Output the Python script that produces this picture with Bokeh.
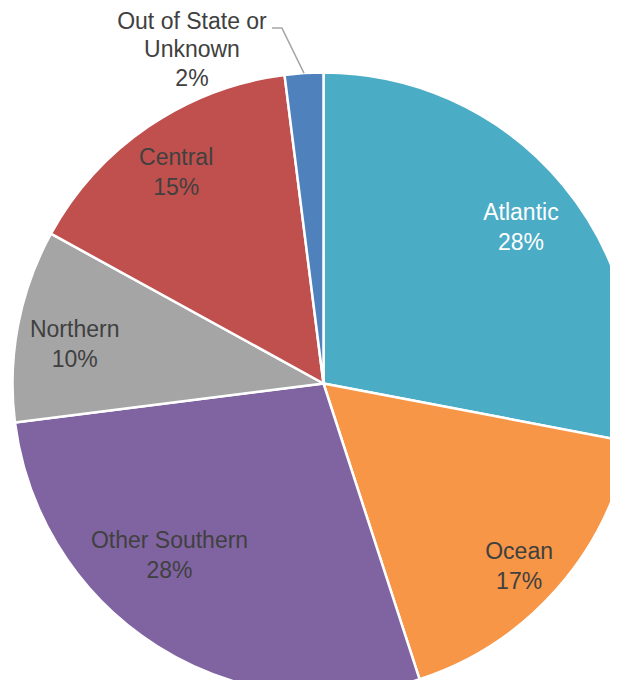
import math
from bokeh.plotting import figure
from bokeh.models import Range1d, ColumnDataSource
from bokeh.core.properties import value
from bokeh.embed import file_html
from bokeh.resources import INLINE

categories = ["Atlantic", "Ocean", "Other Southern", "Northern", "Central", "Out of State or Unknown"]
shares = [28, 17, 28, 10, 15, 2]
colors = ["#4BACC6", "#F79646", "#8064A2", "#A5A5A5", "#C0504D", "#4F81BD"]
text_colors = ["#FFFFFF", "#404040", "#404040", "#404040", "#404040", "#404040"]

# layout constants (pixels)
W, H = 610, 680
CX, CY, R = 323, -383, 311
label_rfrac = [0.81, 0.86, 0.74, 0.81, 0.83]
label_dang = [-1.2, -1.6, -9.6, 1.8, 0.6]
FONT = "Liberation Sans"
FS = "23px"
LH = 30

total = sum(shares)
starts, ends, mids = [], [], []
cum = 0.0
for s in shares:
    a0 = math.pi / 2 - 2 * math.pi * cum / total
    cum += s
    a1 = math.pi / 2 - 2 * math.pi * cum / total
    starts.append(a1)
    ends.append(a0)
    mids.append((a0 + a1) / 2)

p = figure(width=W, height=H, output_backend="svg", toolbar_location=None,
           x_range=Range1d(0, W), y_range=Range1d(-H, 0), min_border=0)
p.axis.visible = False
p.grid.visible = False
p.outline_line_color = None

src = ColumnDataSource(dict(start=starts, end=ends, color=colors))
p.wedge(x=CX, y=CY, radius=R, start_angle="start", end_angle="end",
        fill_color="color", line_color="white", line_width=2.5, source=src)

# inside labels
lx, ly, lt, lc = [], [], [], []
for i in range(5):
    ang = mids[i] + math.radians(label_dang[i])
    x = CX + label_rfrac[i] * R * math.cos(ang)
    y = CY + label_rfrac[i] * R * math.sin(ang)
    lx += [x, x]
    ly += [y + LH / 2, y - LH / 2]
    lt += [categories[i], f"{shares[i]}%"]
    lc += [text_colors[i], text_colors[i]]
p.text(x=lx, y=ly, text=lt, text_color=lc, text_font=value(FONT), text_font_size=FS,
       text_align="center", text_baseline="middle")

# outside label for small slice, with leader line
i = 5
ang = mids[i]
ex = CX + R * math.cos(ang)
ey = CY + R * math.sin(ang)
kx, ky = ex - 22, ey + 45
p.line(x=[ex, kx, kx - 10], y=[ey, ky, ky], line_color="#A6A6A6", line_width=1.5)
ox = kx - 90
oy = ky + 7
p.text(x=[ox, ox, ox], y=[oy, oy - 28, oy - 57],
       text=["Out of State or", "Unknown", f"{shares[i]}%"],
       text_color=text_colors[i], text_font=value(FONT), text_font_size=FS,
       text_align="center", text_baseline="middle")

open("out.html", "w").write(file_html(p, INLINE))
